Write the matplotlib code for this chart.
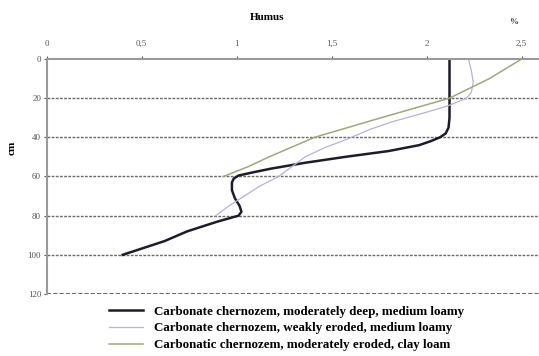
import matplotlib.pyplot as plt
from matplotlib.ticker import FixedLocator

# humus content (%) by depth (cm)
depth_deep = [0, 10, 20, 30, 35, 38, 40, 42, 44, 47, 50, 53, 56, 58, 59.5, 61, 63, 67, 71, 75, 78, 80, 83, 88, 93, 100]
humus_deep = [2.12, 2.12, 2.12, 2.12, 2.115, 2.10, 2.07, 2.02, 1.96, 1.80, 1.57, 1.36, 1.18, 1.08, 1.01, 0.985, 0.975, 0.975, 0.99, 1.015, 1.025, 1.01, 0.90, 0.74, 0.62, 0.40]

depth_weak = [0, 6, 12, 17, 20, 24, 28, 32, 36, 41, 45, 50, 55, 60, 65, 70, 75, 80]
humus_weak = [2.22, 2.235, 2.245, 2.235, 2.21, 2.11, 1.97, 1.82, 1.70, 1.58, 1.47, 1.36, 1.29, 1.22, 1.12, 1.04, 0.96, 0.89]

depth_clay = [0, 10, 20, 30, 40, 50, 55, 60]
humus_clay = [2.50, 2.33, 2.12, 1.76, 1.41, 1.17, 1.06, 0.93]

labels = ["Carbonate chernozem, moderately deep, medium loamy",
          "Carbonate chernozem, weakly eroded, medium loamy",
          "Carbonatic chernozem, moderately eroded, clay loam"]
x_ticks = [0, 0.5, 1, 1.5, 2, 2.5]
x_tick_labels = ["0", "0,5", "1", "1,5", "2", "2,5"]
y_ticks = [0, 20, 40, 60, 80, 100, 120]

plt.rcParams['font.family'] = 'Liberation Serif'

fig = plt.figure(figsize=(5.39, 3.56), dpi=100)
ax = fig.add_axes([0.0866, 0.1742, 0.9134, 0.6601])

l1, = ax.plot(humus_deep, depth_deep, color='#1c1c2a', lw=1.8)
l2, = ax.plot(humus_weak, depth_weak, color='#b4b2dc', lw=0.9)
l3, = ax.plot(humus_clay, depth_clay, color='#a3a67a', lw=1.1)

ax.set_xlim(0, 2.591)
ax.set_ylim(120, 0)
ax.xaxis.tick_top()
ax.xaxis.set_major_locator(FixedLocator(x_ticks))
ax.set_xticklabels(x_tick_labels)
ax.set_yticks(y_ticks)
ax.tick_params(axis='both', labelsize=6.5, colors='#555555', length=2, width=0.8, pad=2)
ax.tick_params(axis='x', pad=6)

for s in ['right', 'bottom']:
    ax.spines[s].set_visible(False)
for s in ['top', 'left']:
    ax.spines[s].set_color('#9a9a9a')
    ax.spines[s].set_linewidth(1.5)

for d in y_ticks[1:]:
    ax.axhline(d, color='#6a6a6a', lw=1.0 if d < 120 else 1.5, ls=(0, (2, 1)), zorder=0)

fig.text(0.495, 0.952, "Humus", ha='center', va='center', fontsize=8, fontweight='bold')
fig.text(0.952, 0.938, "%", ha='center', va='center', fontsize=6.5, fontweight='bold', color='#444444')
fig.text(0.022, 0.584, "cm", ha='center', va='center', rotation=90, fontsize=8, fontweight='bold')

fig.legend([l1, l2, l3], labels, loc='upper left', bbox_to_anchor=(0.203, 0.142),
           frameon=False, handlelength=2.6, handletextpad=0.8,
           labelspacing=0.36, borderaxespad=0, borderpad=0,
           prop={'weight': 'bold', 'size': 9.4})

fig.savefig('out.png', dpi=100)
